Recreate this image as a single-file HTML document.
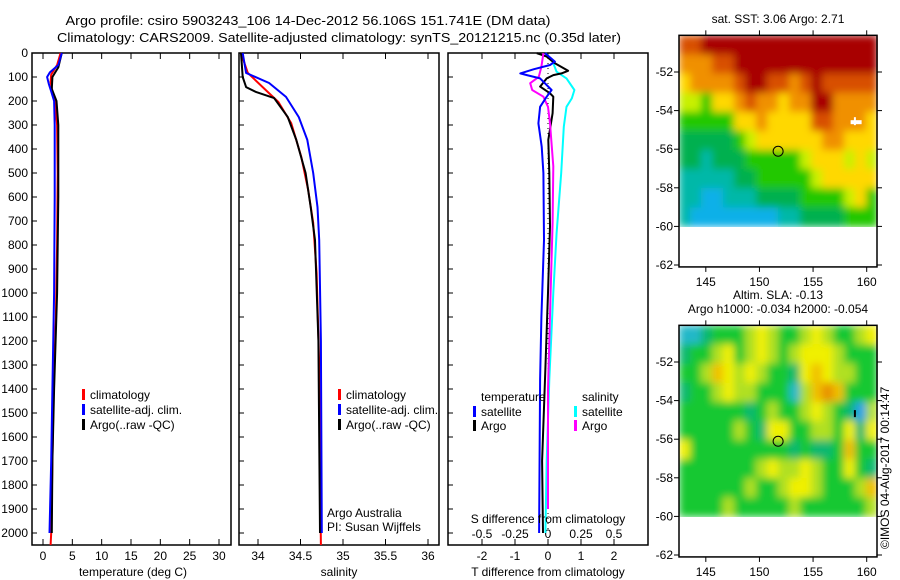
<!DOCTYPE html>
<html><head><meta charset="utf-8"><style>
html,body{margin:0;padding:0;background:#fff;}
svg{display:block;font-family:"Liberation Sans",sans-serif;}
</style></head><body>
<svg id="c" width="900" height="580" viewBox="0 0 900 580" xmlns="http://www.w3.org/2000/svg">
<defs>
<filter id="bl" x="0" y="0" width="1" height="1"><feGaussianBlur stdDeviation="4" edgeMode="duplicate"/></filter>
</defs>
<text x="308" y="25" font-size="13" text-anchor="middle" textLength="485" lengthAdjust="spacingAndGlyphs">Argo profile: csiro 5903243_106 14-Dec-2012 56.106S 151.741E (DM data)</text>
<text x="339" y="42" font-size="13" text-anchor="middle" textLength="564" lengthAdjust="spacingAndGlyphs">Climatology: CARS2009. Satellite-adjusted climatology: synTS_20121215.nc (0.35d later)</text>
<g id="g"></g>
</svg>
<script>
// ---------- data ----------
const depthTicks=[0,100,200,300,400,500,600,700,800,900,1000,1100,1200,1300,1400,1500,1600,1700,1800,1900,2000];
const tempTicks=[0,5,10,15,20,25,30];
const salTicks=[34,34.5,35,35.5,36];
const salTickLabels=['34','34.5','35','35.5','36'];
const tdTicks=[-2,-1,0,1,2];
const sdTicks=[-0.5,-0.25,0,0.25,0.5];
const sdTickLabels=['-0.5','-0.25','0','0.25','0.5'];
// temperature profiles [depth, value]
const tempClim=[[0,3.0],[50,2.4],[90,1.4],[120,1.3],[160,1.6],[200,2.0],[300,2.4],[500,2.5],[800,2.4],[1100,2.2],[1400,1.8],[1700,1.6],[2000,1.4],[2050,1.3]];
const tempSat=[[0,3.2],[50,2.6],[80,1.2],[100,0.7],[130,1.0],[160,1.4],[200,1.9],[300,2.0],[600,2.0],[1000,1.9],[1400,1.6],[1700,1.4],[2000,1.1]];
const tempArgo=[[0,3.2],[60,2.6],[100,1.6],[150,1.5],[200,2.3],[300,2.6],[600,2.6],[1000,2.4],[1400,1.9],[1700,1.6],[2000,1.5]];
// salinity profiles
const salClim=[[0,33.8],[83,33.88],[154,34.09],[204,34.24],[292,34.39],[433,34.51],[571,34.59],[708,34.65],[917,34.69],[1300,34.72],[1700,34.73],[2050,34.74]];
const salSat=[[0,33.82],[83,33.86],[125,34.13],[183,34.33],[267,34.48],[362,34.58],[500,34.65],[642,34.7],[779,34.72],[1200,34.74],[2000,34.75]];
const salArgo=[[0,33.8],[100,33.82],[142,33.86],[163,33.98],[188,34.19],[267,34.35],[362,34.45],[500,34.56],[642,34.62],[779,34.67],[1200,34.71],[2000,34.73]];
// differences
const tdSat=[[1,-0.09],[36,0.21],[50,0.06],[68,-0.44],[85,-0.84],[92,-0.64],[106,-0.24],[154,0.11],[182,-0.04],[224,-0.24],[293,-0.29],[390,-0.19],[500,-0.14],[779,-0.12],[1100,-0.2],[1360,-0.24],[2000,-0.27]];
const tdArgo=[[1,-0.34],[15,-0.04],[43,0.21],[74,0.61],[85,0.41],[92,0.16],[106,-0.04],[140,-0.24],[168,0.06],[182,0.16],[251,0.14],[362,0.01],[500,0.04],[722,0.06],[1000,0.0],[1360,-0.09],[1700,-0.18],[2000,-0.15]];
const sdSat=[[1,-0.02],[29,0.03],[78,0.065],[106,0.14],[154,0.2],[189,0.18],[224,0.14],[307,0.12],[500,0.10],[750,0.065],[1000,0.04],[1360,0.01],[1700,-0.01],[2000,-0.02]];
const sdArgo=[[1,-0.035],[57,-0.05],[99,-0.07],[126,-0.135],[154,-0.12],[182,-0.035],[224,0.0],[293,0.015],[472,0.04],[708,0.035],[1000,0.02],[1400,0.0],[1900,0.0]];
// maps
const lonTicks=[145,150,155,160];
const latTicks=[52,54,56,58,60,62];
const sstGrid=[
"889999999999999999",
"777889999999999999",
"677778998878988888",
"554667877677997777",
"444446676666887776",
"333334566666677666",
"332333444445666565",
"222223344444566666",
"221122233334444564",
"211111111223333444"];
const slaGrid=[
"112333454334543345",
"233453454345554333",
"334654543325654433",
"233454433314676333",
"333333234334543204",
"333334325533443525",
"533333333323223633",
"333333345445433532",
"333333433455433346",
"333343333343333334"];
const floatLon=151.741, floatLat=56.106;

// ---------- helpers ----------
const NS='http://www.w3.org/2000/svg';
const G=document.getElementById('g');
function mk(tag,attrs,parent){const e=document.createElementNS(NS,tag);for(const k in attrs)e.setAttribute(k,attrs[k]);(parent||G).appendChild(e);return e;}
const yTop=53,yBot=545;
function yD(d){return yTop+d*0.24;}
function lin(d0,d1,p0,p1){return v=>p0+(v-d0)*(p1-p0)/(d1-d0);}

function frame(x0,x1,name){
  const r=mk('rect',{x:x0,y:yTop,width:x1-x0,height:yBot-yTop,fill:'none',stroke:'#000','stroke-width':1.5});
  
  
  depthTicks.forEach(d=>{mk('line',{x1:x0,x2:x0+5,y1:yD(d),y2:yD(d),stroke:'#000'});});
}
function xTicks(ticks,labels,sx,name,ty){
  ticks.forEach((t,i)=>{
    const x=sx(t);
    mk('line',{x1:x,x2:x,y1:yTop,y2:yTop+6,stroke:'#000'});
    mk('line',{x1:x,x2:x,y1:yBot,y2:yBot-6,stroke:'#000'});
    const tx=mk('text',{x:x,y:ty||560,'font-size':12,'text-anchor':'middle'});
    tx.textContent=labels[i];
    
    
  });
}
function line(data,sx,color,name,w){
  const pts=data.map(p=>sx(p[1]).toFixed(1)+','+yD(p[0]).toFixed(1)).join(' ');
  const l=mk('polyline',{points:pts,fill:'none',stroke:color,'stroke-width':w||2,'stroke-linejoin':'round'});
  
  
}
function legend(x,y,color,label,name){
  mk('rect',{x:x,y:y-9,width:3,height:11,fill:color});
  const t=mk('text',{x:x+8,y:y+1,'font-size':12});
  t.textContent=label;
  
  
}
function text(x,y,s,name,anchor,size){
  const t=mk('text',{x:x,y:y,'font-size':size||12,'text-anchor':anchor||'start'});
  t.textContent=s;
  
  
  return t;
}

// depth labels
depthTicks.forEach(d=>{text(28,yD(d)+4,String(d),'depth-tick-label','end');});

// ---------- panel 1 temperature ----------
const sT=lin(0,30,43,219);
frame(32,231,'temperature-panel');
xTicks(tempTicks,tempTicks.map(String),sT,'temperature-tick-label');
line(tempClim,sT,'#f00','temperature-climatology-line');
line(tempArgo,sT,'#000','temperature-argo-line');
line(tempSat,sT,'#00f','temperature-satellite-line');
text(133,576,'temperature (deg C)','temperature-axis-title','middle');
legend(82,398,'#f00','climatology','legend-climatology');
legend(82,413,'#00f','satellite-adj. clim.','legend-satellite');
legend(82,428,'#000','Argo(..raw -QC)','legend-argo');

// ---------- panel 2 salinity ----------
const sS=lin(34,36,258,428);
frame(239,439,'salinity-panel');
xTicks(salTicks,salTickLabels,sS,'salinity-tick-label');
line(salClim,sS,'#f00','salinity-climatology-line');
line(salArgo,sS,'#000','salinity-argo-line');
line(salSat,sS,'#00f','salinity-satellite-line');
text(339,576,'salinity','salinity-axis-title','middle');
legend(338,398,'#f00','climatology','legend-climatology-2');
legend(338,413,'#00f','satellite-adj. clim.','legend-satellite-2');
legend(338,428,'#000','Argo(..raw -QC)','legend-argo-2');
text(327,517,'Argo Australia','argo-australia-label');
text(327,531,'PI: Susan Wijffels','pi-label');

// ---------- panel 3 differences ----------
const sTD=lin(0,2,548,614);
const sSD=lin(0,0.5,548,614);
frame(448,648,'difference-panel');
xTicks(tdTicks,tdTicks.map(String),sTD,'t-difference-tick-label');
sdTicks.forEach((t,i)=>{text(sSD(t),538,sdTickLabels[i],'s-difference-tick-label','middle');});
mk('line',{x1:sTD(0),x2:sTD(0),y1:yD(0),y2:yD(2000),stroke:'#000','stroke-dasharray':'1,4'});
line(sdSat,sSD,'#0ff','s-diff-satellite-line');
line(tdArgo,sTD,'#000','t-diff-argo-line');
line(sdArgo,sSD,'#f0f','s-diff-argo-line');
line(tdSat,sTD,'#00f','t-diff-satellite-line');
text(548,523,'S difference from climatology','s-difference-axis-title','middle');
text(548,576,'T difference from climatology','t-difference-axis-title','middle');
text(481,401,'temperature','legend-temperature-heading');
legend(473,415,'#00f','satellite','legend-t-satellite');
legend(473,429,'#000','Argo','legend-t-argo');
text(582,401,'salinity','legend-salinity-heading');
legend(574,415,'#0ff','satellite','legend-s-satellite');
legend(574,429,'#f0f','Argo','legend-s-argo');

// ---------- maps ----------
const sstCol=['#1070f0','#10b0e8','#00b8a8','#00b050','#20c800','#c8f000','#ffd800','#f09000','#d85000','#a80000'];
const slaCol=['#20a0e8','#20b8c8','#10b870','#18c830','#b0e020','#f0f000','#f0c000','#e89000'];
function map(top,grid,cols,name,title1,title2){
  const x0=679,x1=877,latTop=50.1;
  const sLon=lin(142.5,160.96,x0,x1);
  const sLat=lin(52,62,top+37,top+230);
  const g=mk('g',{});
  
  
  const rows=grid.length, ncol=grid[0].length;
  const y60=sLat(60), yT=sLat(latTop);
  const cw=(x1-x0)/ncol, ch=(y60-yT)/rows;
  const img=mk('g',{filter:'url(#bl)'},g);
  grid.forEach((row,r)=>{for(let c=0;c<ncol;c++){
    mk('rect',{x:(x0+c*cw).toFixed(1),y:(yT+r*ch).toFixed(1),width:(cw+0.6).toFixed(1),height:(ch+0.6).toFixed(1),fill:cols[+row[c]]},img);
  }});
  mk('rect',{x:x0,y:yT,width:x1-x0,height:sLat(62.1)-yT,fill:'none',stroke:'#000','stroke-width':1.5},g);
  lonTicks.forEach(l=>{const x=sLon(l);
    mk('line',{x1:x,x2:x,y1:yT,y2:yT-5,stroke:'#000'},g);
    mk('line',{x1:x,x2:x,y1:sLat(62.1),y2:sLat(62.1)+5,stroke:'#000'},g);
    text(x,sLat(62.1)+19,String(l),'map-lon-tick-label','middle');});
  latTicks.forEach(l=>{const y=sLat(l);
    mk('line',{x1:x0,x2:x0-5,y1:y,y2:y,stroke:'#000'},g);
    mk('line',{x1:x1,x2:x1+5,y1:y,y2:y,stroke:'#000'},g);
    text(673,y+4,'-'+l,'map-lat-tick-label','end');});
  const cx=sLon(floatLon), cy=sLat(floatLat);
  const ci=mk('circle',{cx:cx,cy:cy,r:5,fill:'none',stroke:'#000','stroke-width':1},g);
  
  
  if(title2){text(778,top-26,title1,'map-title','middle');text(778,top-12,title2,'map-subtitle','middle');}
  else text(778,top-12,title1,'map-title','middle');
  return {sLon,sLat};
}
const m1=map(35,sstGrid,sstCol,'sst-map','sat. SST: 3.06 Argo: 2.71');
mk('rect',{x:m1.sLon(158.5),y:m1.sLat(54.6)-2,width:11,height:4,fill:'#fff'});
mk('rect',{x:m1.sLon(158.9)-1,y:m1.sLat(54.6)-5,width:2,height:8,fill:'#fff'});
const m2=map(325,slaGrid,slaCol,'sla-map','Altim. SLA: -0.13','Argo h1000: -0.034 h2000: -0.054');
mk('rect',{x:m2.sLon(158.9)-1,y:m2.sLat(54.7)-4,width:2,height:7,fill:'#000'});
const cp=text(0,0,'©IMOS 04-Aug-2017 00:14:47','copyright-label','start',12);
cp.setAttribute('transform','translate(889,549) rotate(-90)');
</script>
</body></html>
